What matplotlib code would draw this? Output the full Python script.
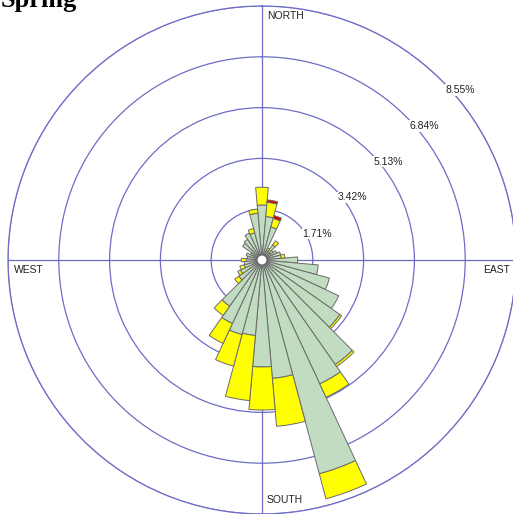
import numpy as np
import matplotlib.pyplot as plt
from matplotlib.patches import Circle

# ============================================
# DATA  (frequency in % per 10 degree sector)
# ============================================

directions = np.arange(0, 360, 10)

calm_band = [1.85, 1.47, 1.15, 0.35, 0.62, 0.35, 0.55, 0.65, 0.65, 1.20,
             1.90, 2.35, 2.85, 3.20, 4.30, 4.60, 7.45, 4.00, 3.60, 2.55,
             2.60, 2.36, 1.90, 0.95, 0.80, 0.62, 0.60, 0.52, 0.50, 0.55,
             0.35, 0.80, 0.85, 1.00, 0.95, 1.58]

mid_band = [0.60, 0.48, 0.30, 0.10, 0.17, 0.10, 0.00, 0.00, 0.12, 0.00,
            0.00, 0.00, 0.00, 0.07, 0.08, 0.50, 0.87, 1.62, 1.45, 2.20,
            1.10, 0.74, 0.38, 0.17, 0.10, 0.15, 0.00, 0.18, 0.00, 0.00,
            0.08, 0.00, 0.00, 0.00, 0.15, 0.14]

high_band = [0.00, 0.08, 0.10, 0.00, 0.00, 0.00, 0.00, 0.00, 0.00, 0.00,
             0.00, 0.00, 0.00, 0.00, 0.00, 0.00, 0.00, 0.00, 0.00, 0.00,
             0.00, 0.00, 0.00, 0.00, 0.00, 0.00, 0.00, 0.00, 0.00, 0.00,
             0.00, 0.00, 0.00, 0.00, 0.00, 0.00]

rings = [1.71, 3.42, 5.13, 6.84, 8.55]
ring_labels = ["1.71%", "3.42%", "5.13%", "6.84%", "8.55%"]

# ============================================
# FIGURE
# ============================================

W, H = 513, 514
fig = plt.figure(figsize=(W / 100, H / 100), dpi=100)

cx, cy, R = 262, 260, 254
ax = fig.add_axes(
    [(cx - R) / W, (H - cy - R) / H, 2 * R / W, 2 * R / H],
    projection="polar"
)

ax.set_theta_zero_location("N")
ax.set_theta_direction(-1)
ax.set_ylim(0, rings[-1])

grid_color = "#6d6dc6"

ax.set_xticks(np.radians([0, 90, 180, 270]))
ax.set_xticklabels([])
ax.set_yticks(rings)
ax.set_yticklabels([])
ax.grid(True, color=grid_color, linewidth=0.9)
ax.spines["polar"].set_color(grid_color)
ax.spines["polar"].set_linewidth(0.9)
ax.set_axisbelow(True)

# ============================================
# STACKED BARS
# ============================================

theta = np.radians(directions)
width = np.radians(10)

calm = np.array(calm_band)
mid = np.array(mid_band)
high = np.array(high_band)

bands = [
    (calm, np.zeros_like(calm), "#c1dcc1"),
    (mid, calm, "#ffff00"),
    (high, calm + mid, "#e00000"),
]

for heights, bottoms, colour in bands:
    keep = heights > 0
    ax.bar(
        theta[keep],
        heights[keep],
        width=width,
        bottom=bottoms[keep],
        color=colour,
        edgecolor="#6a6a6a",
        linewidth=0.7,
        zorder=3
    )

# white hub in the middle
ax.add_patch(Circle(
    (0.5, 0.5), 5 / (2 * R),
    transform=ax.transAxes,
    facecolor="white",
    edgecolor="#6a6a6a",
    linewidth=0.8,
    zorder=5
))

# ============================================
# LABELS
# ============================================

label_font = dict(family="Liberation Sans", size=7.5, color="#222222")

label_angles = [64.5, 55.2, 52.0, 50.4, 49.4]
label_offsets = [0.36, 0.27, 0.25, 0.23, 0.24]

for ring, text, ang, off in zip(rings, ring_labels, label_angles, label_offsets):
    ax.text(
        np.radians(ang), ring + off, text,
        ha="center", va="center",
        bbox=dict(facecolor="white", edgecolor="none", pad=0.5),
        zorder=6, clip_on=False,
        **label_font
    )

compass = [("NORTH", 267, 11), ("WEST", 14, 265),
           ("EAST", 483, 265), ("SOUTH", 267, 495)]

for name, px, py in compass:
    fig.text(px / W, 1 - py / H, name, ha="left", va="top", **label_font)

fig.text(1 / W, 1 - 7 / H, "Spring", ha="left", va="baseline",
         family="Liberation Serif", weight="bold", size=19)

fig.savefig("out.png", dpi=100)
